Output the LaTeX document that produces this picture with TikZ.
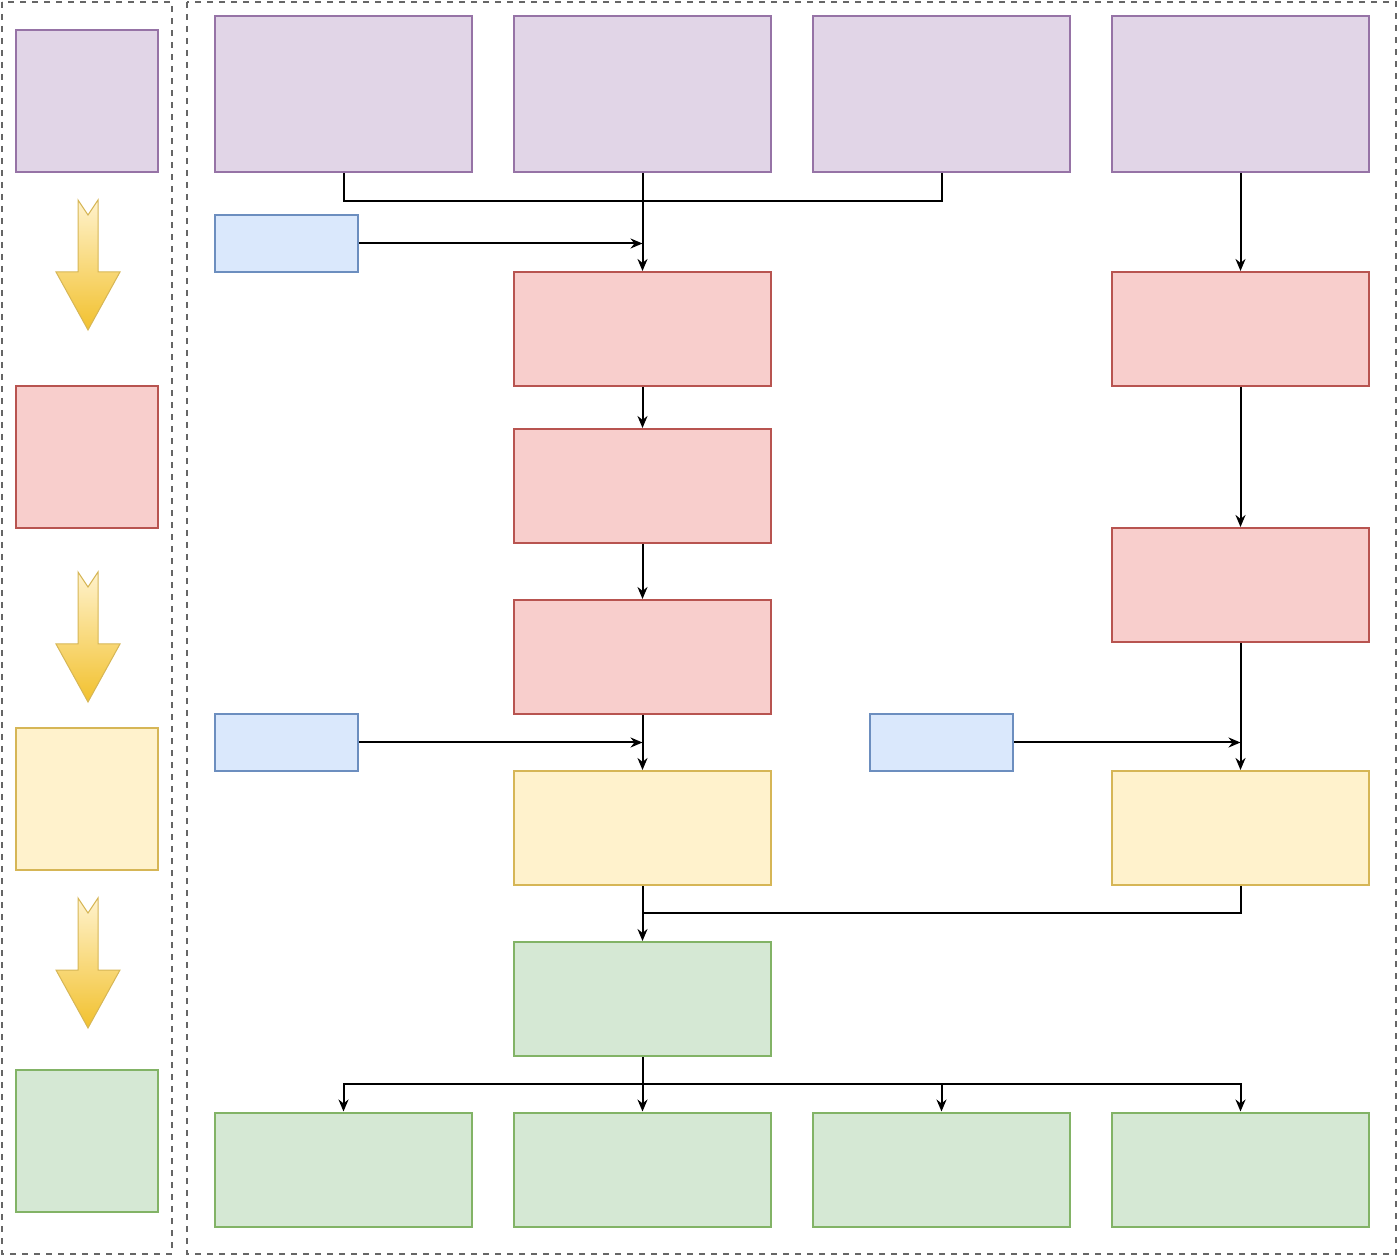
\documentclass[tikz,border=0pt]{standalone}
\usetikzlibrary{arrows.meta}

\definecolor{purpfill}{HTML}{E1D5E7}\definecolor{purpline}{HTML}{9673A6}
\definecolor{redfill}{HTML}{F8CECC}\definecolor{redline}{HTML}{B85450}
\definecolor{yelfill}{HTML}{FFF2CC}\definecolor{yelline}{HTML}{D6B656}
\definecolor{grnfill}{HTML}{D5E8D4}\definecolor{grnline}{HTML}{82B366}
\definecolor{bluefill}{HTML}{DAE8FC}\definecolor{blueline}{HTML}{6C8EBF}
\definecolor{framegray}{HTML}{666666}
\definecolor{arrowgold}{HTML}{F2C12E}

\tikzset{
  box/.style={draw,line width=1pt,minimum width=128.5pt,minimum height=57pt,inner sep=0pt},
  tall/.style={minimum height=78pt},
  key/.style={draw,line width=1pt,minimum width=71pt,minimum height=71pt,inner sep=0pt},
  small/.style={draw,line width=1pt,minimum width=71.5pt,minimum height=28.5pt,inner sep=0pt},
  purp/.style={fill=purpfill,draw=purpline},
  red/.style={fill=redfill,draw=redline},
  yel/.style={fill=yelfill,draw=yelline},
  grn/.style={fill=grnfill,draw=grnline},
  blu/.style={fill=bluefill,draw=blueline},
  conn/.style={line width=1pt,-{Stealth[length=6pt,width=5pt]}},
  line/.style={line width=1pt},
  frame/.style={draw=framegray,dashed,line width=0.6pt},
  stage/.style={shade,top color=yelfill,bottom color=arrowgold,draw=yelline,line width=0.5pt}
}

\begin{document}
\begin{tikzpicture}[x=0.5pt,y=-0.5pt]
\useasboundingbox (0,0) rectangle (1398,1256);
% frames
\draw[frame] (2,2) rectangle (172,1254);
\draw[frame] (187,2) rectangle (1396,1254);
% legend
\node[key,purp] (kp) at (87,101) {};
\node[key,red] (kr) at (87,457) {};
\node[key,yel] (ky) at (87,799) {};
\node[key,grn] (kg) at (87,1141) {};
\foreach \y in {200,572,898}
  \shade[stage] (78,\y) -- (88,\y+15) -- (98,\y) -- (98,\y+72) -- (120,\y+72)
    -- (88,\y+130) -- (56,\y+72) -- (78,\y+72) -- cycle;
% top row
\node[box,tall,purp] (p1) at (343.5,94) {};
\node[box,tall,purp] (p2) at (642.5,94) {};
\node[box,tall,purp] (p3) at (941.5,94) {};
\node[box,tall,purp] (p4) at (1240.5,94) {};
% inputs
\node[small,blu] (b1) at (286.5,243.5) {};
\node[small,blu] (b2) at (286.5,742.5) {};
\node[small,blu] (b3) at (941.5,742.5) {};
% processing
\node[box,red] (r1) at (642.5,329) {};
\node[box,red] (r2) at (642.5,486) {};
\node[box,red] (r3) at (642.5,657) {};
\node[box,red] (r4) at (1240.5,329) {};
\node[box,red] (r5) at (1240.5,585) {};
\node[box,yel] (y1) at (642.5,828) {};
\node[box,yel] (y2) at (1240.5,828) {};
\node[box,grn] (g0) at (642.5,999) {};
% outputs
\node[box,grn] (o1) at (343.5,1169.5) {};
\node[box,grn] (o2) at (642.5,1169.5) {};
\node[box,grn] (o3) at (941.5,1169.5) {};
\node[box,grn] (o4) at (1240.5,1169.5) {};
% connectors
\coordinate (j1) at (642.5,201);
\coordinate (j2) at (642.5,913);
\coordinate (j3) at (642.5,1084);
\draw[line] (p1.south) |- (j1) -| (p3.south);
\draw[conn] (p2) -- (r1);
\draw[conn] (b1.east) -- (b1.east -| r1);
\draw[conn] (p4) -- (r4);
\draw[conn] (r1) -- (r2);
\draw[conn] (r2) -- (r3);
\draw[conn] (r4) -- (r5);
\draw[conn] (r3) -- (y1);
\draw[conn] (r5) -- (y2);
\draw[conn] (b2.east) -- (b2.east -| y1);
\draw[conn] (b3.east) -- (b3.east -| y2);
\draw[line] (y2.south) |- (j2);
\draw[conn] (y1) -- (g0);
\draw[conn] (g0) -- (o2);
\draw[conn] (j3) -| (o1.north);
\draw[conn] (j3) -| (o3.north);
\draw[conn] (j3) -| (o4.north);
\end{tikzpicture}
\end{document}
